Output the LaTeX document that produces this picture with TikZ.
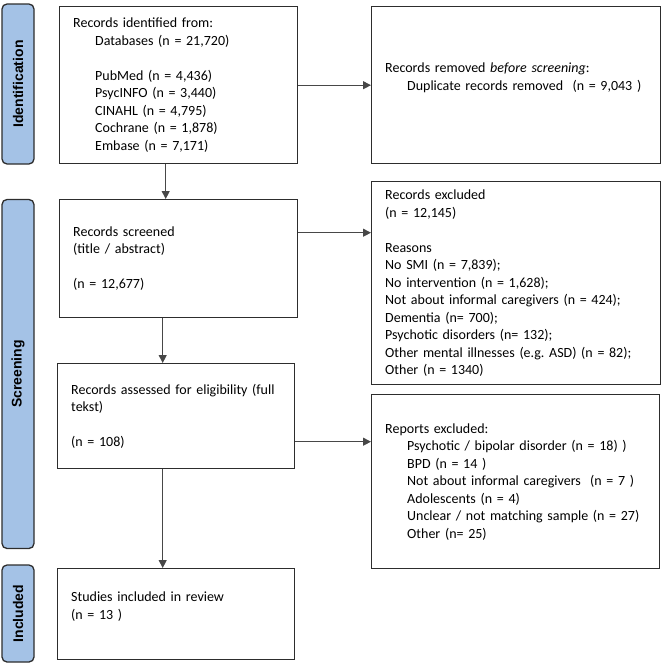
\documentclass[tikz,border=0pt]{standalone}
\usepackage{fontspec}
\setmainfont{Carlito}
\newfontfamily\stagefont{Liberation Sans}
\usepackage{tikz}
\usetikzlibrary{
  arrows.meta,
  positioning
}
\definecolor{stageblue}{RGB}{164,194,230}
\definecolor{lineblack}{RGB}{45,45,45}
\frenchspacing
\tikzset{
  recbox/.style={
    draw=lineblack,
    line width=1.4pt,
    anchor=north west,
    inner xsep=13.5pt,
    inner ysep=2pt,
    align=left,
    font=\fontsize{14}{17.5}\selectfont,
  },
  stagebox/.style={
    draw=lineblack,
    fill=stageblue,
    line width=1.3pt,
    rounded corners=5pt,
    rotate=90,
    minimum height=32pt,
    inner sep=0pt,
    font=\stagefont\bfseries\fontsize{14}{16}\selectfont,
  },
  arr/.style={
    -{Triangle[length=8pt,width=8pt]},
    line width=1pt,
    draw=black!72,
  },
}
\newcommand{\ind}{\hspace*{22pt}}

\begin{document}
\begin{tikzpicture}[x=1pt, y=-1pt]
  \useasboundingbox (0,0) rectangle (664,664);

  % Stage labels on the left
  \node[stagebox, minimum width=160pt] (stageid)  at (18,84)    {Identification};
  \node[stagebox, minimum width=349pt] (stagescr) at (18,374)   {Screening};
  \node[stagebox, minimum width=97pt]  (stageinc) at (18,613.5) {Included};

  % Identification
  \node[recbox, text width=211pt, minimum height=157pt] (ident) at (59,6)
    {Records identified from:\\
     \ind Databases (n = 21,720)\\~\\
     \ind PubMed (n = 4,436)\\
     \ind PsycINFO (n = 3,440)\\
     \ind CINAHL (n = 4,795)\\
     \ind Cochrane (n = 1,878)\\
     \ind Embase (n = 7,171)};
  \node[recbox, text width=262pt, minimum height=157pt] (removed) at (371,6)
    {Records removed \textit{before screening}:\\
     \ind Duplicate records removed\ \ (n = 9,043 )\\~};

  % Screening
  \node[recbox, text width=211pt, minimum height=118pt] (screened) at (59,199)
    {Records screened\\
     (title / abstract)\\~\\
     (n = 12,677)};
  \node[recbox, text width=262pt, minimum height=203pt] (excluded) at (371,181)
    {Records excluded\\
     (n = 12,145)\\~\\
     Reasons\\
     No SMI (n = 7,839);\\
     No intervention (n = 1,628);\\
     Not about informal caregivers (n = 424);\\
     Dementia (n= 700);\\
     Psychotic disorders (n= 132);\\
     Other mental illnesses (e.g. ASD) (n = 82);\\
     Other (n = 1340)};
  \node[recbox, text width=210pt, minimum height=105pt] (assessed) at (57,363)
    {Records assessed for eligibility (full\\
     tekst)\\~\\
     (n = 108)};
  \node[recbox, text width=261pt, minimum height=174pt] (reports) at (371,394)
    {Reports excluded:\\
     \ind Psychotic / bipolar disorder (n = 18) )\\
     \ind BPD (n = 14 )\\
     \ind Not about informal caregivers\ \ (n = 7 )\\
     \ind Adolescents (n = 4)\\
     \ind Unclear / not matching sample (n = 27)\\
     \ind Other (n= 25)};

  % Included
  \node[recbox, text width=210pt, minimum height=91pt] (included) at (57,568)
    {Studies included in review\\
     (n = 13 )\\~};

  % Connectors
  \coordinate (identout) at ([xshift=-13pt]ident.south);
  \coordinate (scrout)   at ([xshift=-16pt]screened.south);
  \coordinate (scrside)  at ([yshift=26pt]screened.east);
  \coordinate (assside)  at ([yshift=-25.5pt]assessed.east);

  \draw[arr] (identout) -- (identout |- screened.north);
  \draw[arr] (ident.east) -- (removed.west);
  \draw[arr] (scrside) -- (scrside -| excluded.west);
  \draw[arr] (scrout) -- (scrout |- assessed.north);
  \draw[arr] (assside) -- (assside -| reports.west);
  \draw[arr] (scrout |- assessed.south) -- (scrout |- included.north);
\end{tikzpicture}
\end{document}
